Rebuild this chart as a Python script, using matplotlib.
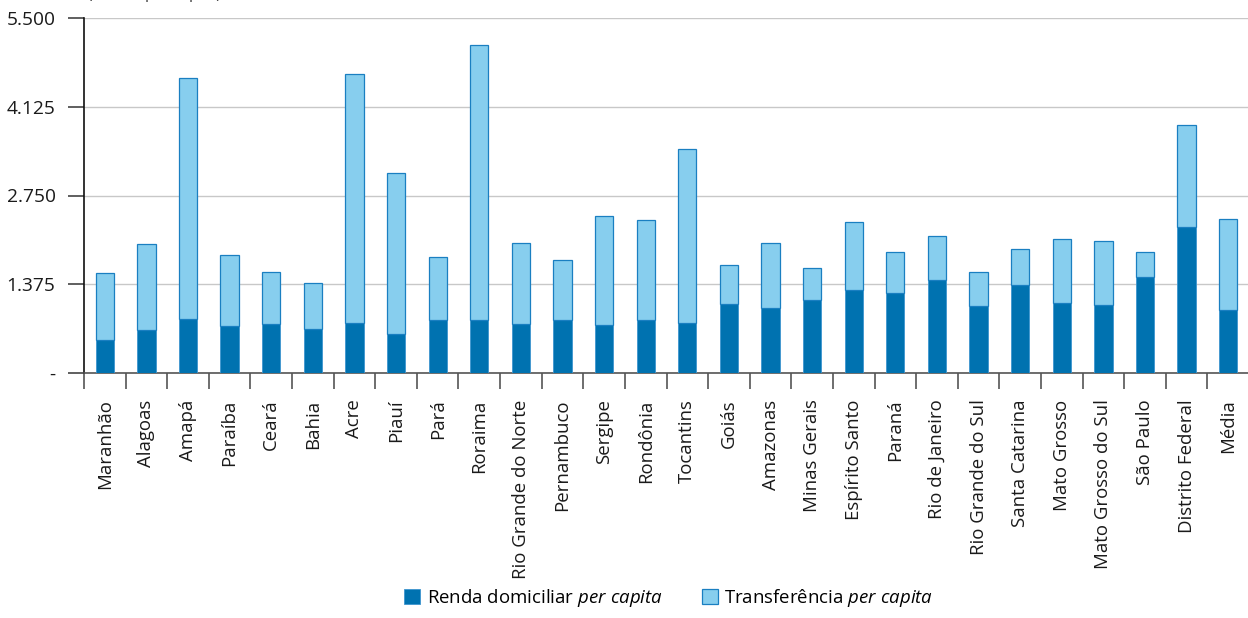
import numpy as np
import matplotlib.pyplot as plt

plt.rcParams['font.family'] = ['Open Sans', 'DejaVu Sans']
plt.rcParams['mathtext.fontset'] = 'custom'
plt.rcParams['mathtext.it'] = 'Open Sans:italic'
plt.rcParams['mathtext.rm'] = 'Open Sans'

# states ordered as in the source table
estados = ['Maranhão', 'Alagoas', 'Amapá', 'Paraíba', 'Ceará', 'Bahia', 'Acre',
           'Piauí', 'Pará', 'Roraima', 'Rio Grande do Norte', 'Pernambuco',
           'Sergipe', 'Rondônia', 'Tocantins', 'Goiás', 'Amazonas',
           'Minas Gerais', 'Espírito Santo', 'Paraná', 'Rio de Janeiro',
           'Rio Grande do Sul', 'Santa Catarina', 'Mato Grosso',
           'Mato Grosso do Sul', 'São Paulo', 'Distrito Federal', 'Média']

# household income per capita (R$)
renda = [507, 672, 843, 728, 754, 682, 781, 600, 816, 821, 754, 821, 739, 816,
         775, 1075, 1013, 1137, 1286, 1239, 1436, 1044, 1370, 1080, 1054, 1483,
         2257, 982]

# total (income + transfers) per capita (R$)
total = [1555, 1994, 4566, 1824, 1571, 1390, 4639, 3105, 1793, 5082, 2014, 1757,
         2439, 2377, 3477, 1679, 2020, 1627, 2346, 1870, 2123, 1560, 1921, 2082,
         2040, 1875, 3838, 2392]

transferencia = [t - r for t, r in zip(total, renda)]

yticks = [0, 1375, 2750, 4125, 5500]
ytick_labels = ['-', '1.375', '2.750', '4.125', '5.500']

dark = '#0072b0'
light = '#87ceee'

fig = plt.figure(figsize=(12.48, 6.18), dpi=100)
ax = fig.add_axes([84 / 1248, 1 - 373 / 618, 1165 / 1248, 355 / 618])

x = np.arange(len(estados))
w = 0.44
ax.bar(x, renda, w, color=dark, edgecolor='#3d95cf', linewidth=0.6,
       label='Renda domiciliar $\\it{per\\ capita}$', zorder=3)
ax.bar(x, transferencia, w, bottom=renda, color=light, edgecolor='#1a7fc1',
       linewidth=0.9, label='Transferência $\\it{per\\ capita}$', zorder=3)

ax.set_xlim(-0.5, len(estados) - 0.5)
ax.set_ylim(0, 5500)
ax.set_yticks(yticks)
ax.set_yticklabels(ytick_labels)
ax.grid(axis='y', color='#c8c8c8', linewidth=1.0, zorder=0)

ax.set_xticks(x)
ax.set_xticklabels(estados, rotation=90, va='top', ha='center')
ax.set_xticks(np.arange(-0.5, len(estados), 1), minor=True)
ax.tick_params(axis='x', which='major', length=0, pad=19, labelsize=13.4,
               labelcolor='#1a1a1a')
ax.tick_params(axis='x', which='minor', length=11.5, width=1.2, color='#555555')
ax.tick_params(axis='y', length=11.5, width=1.2, color='#444444', pad=9,
               labelsize=13.8, labelcolor='#1a1a1a')

for s in ['top', 'right']:
    ax.spines[s].set_visible(False)
ax.spines['left'].set_color('#111111')
ax.spines['left'].set_linewidth(1.2)
ax.spines['bottom'].set_color('#555555')
ax.spines['bottom'].set_linewidth(1.2)

# unit note above the plot (mostly outside the canvas)
fig.text(88 / 1248, 1.004, '(Em R$, per capita)', fontsize=11, color='#333333',
         va='baseline', ha='left')

fig.legend(loc='lower center', bbox_to_anchor=(0.536, -0.012), ncol=2,
           frameon=False, fontsize=13.4, handlelength=0.86, handleheight=0.86,
           handletextpad=0.35, columnspacing=2.1)

fig.savefig('out.png', dpi=100)
